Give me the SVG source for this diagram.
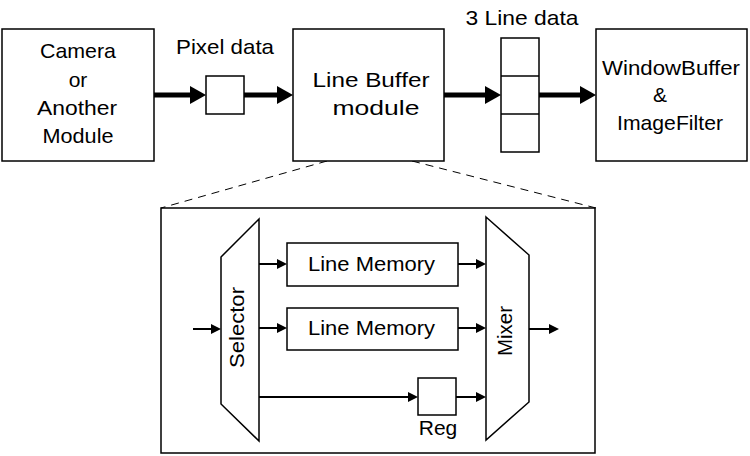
<svg xmlns="http://www.w3.org/2000/svg" width="750" height="456" viewBox="0 0 750 456">
<defs>
<style>
.box{fill:#fff;stroke:#000;stroke-width:1.5}
.frame{fill:none;stroke:#000;stroke-width:1.5}
.t{font-family:"Liberation Sans",Arial,sans-serif;font-size:21px;fill:#000;text-anchor:middle}
.big{stroke:#000;stroke-width:5;fill:none}
.thin{stroke:#000;stroke-width:2;fill:none}
.dash{stroke:#000;stroke-width:1;fill:none;stroke-dasharray:8 6}
</style>
<marker id="ab" markerUnits="userSpaceOnUse" markerWidth="16" markerHeight="18" refX="8" refY="9" orient="auto">
<path d="M0,0 L16,9 L0,18 z" fill="#000"/>
</marker>
<marker id="as" markerUnits="userSpaceOnUse" markerWidth="10" markerHeight="11" refX="5" refY="5.5" orient="auto">
<path d="M0,0.5 L10,5.5 L0,10.5 z" fill="#000"/>
</marker>
</defs>
<rect width="750" height="456" fill="#fff"/>

<g id="detail">
<rect class="frame" x="161" y="208" width="434" height="245"/>
</g>

<g id="connectors">
<line class="big" x1="154" y1="95" x2="198" y2="95" marker-end="url(#ab)"/>
<line class="big" x1="244" y1="95" x2="285" y2="95" marker-end="url(#ab)"/>
<line class="big" x1="444" y1="95" x2="493" y2="95" marker-end="url(#ab)"/>
<line class="big" x1="539" y1="95" x2="588" y2="95" marker-end="url(#ab)"/>
<line class="dash" x1="327" y1="161" x2="161" y2="208"/>
<line class="dash" x1="412" y1="161" x2="596" y2="208"/>
<line class="thin" x1="193" y1="329" x2="216" y2="329" marker-end="url(#as)"/>
<line class="thin" x1="259" y1="264" x2="282" y2="264" marker-end="url(#as)"/>
<line class="thin" x1="259" y1="328" x2="282" y2="328" marker-end="url(#as)"/>
<line class="thin" x1="259" y1="397" x2="413" y2="397" marker-end="url(#as)"/>
<line class="thin" x1="458" y1="264" x2="481" y2="264" marker-end="url(#as)"/>
<line class="thin" x1="458" y1="328" x2="481" y2="328" marker-end="url(#as)"/>
<line class="thin" x1="456" y1="397" x2="481" y2="397" marker-end="url(#as)"/>
<line class="thin" x1="529" y1="329" x2="554" y2="329" marker-end="url(#as)"/>
</g>

<g id="camera">
<rect class="box" x="2" y="29" width="152" height="132"/>
<text class="t" x="78" y="58" textLength="76" lengthAdjust="spacingAndGlyphs">Camera</text>
<text class="t" x="78" y="87">or</text>
<text class="t" x="77" y="115" textLength="80" lengthAdjust="spacingAndGlyphs">Another</text>
<text class="t" x="78" y="143" textLength="71" lengthAdjust="spacingAndGlyphs">Module</text>
</g>

<g id="pixel-data">
<text class="t" x="225" y="54" textLength="98" lengthAdjust="spacingAndGlyphs">Pixel data</text>
<rect class="box" x="206" y="76" width="38" height="38"/>
</g>

<g id="line-buffer">
<rect class="box" x="293" y="29" width="151" height="132"/>
<text class="t" x="371" y="87" textLength="117" lengthAdjust="spacingAndGlyphs">Line Buffer</text>
<text class="t" x="376" y="115" textLength="87" lengthAdjust="spacingAndGlyphs">module</text>
</g>

<g id="three-line-data">
<text class="t" x="522" y="25" textLength="113" lengthAdjust="spacingAndGlyphs">3 Line data</text>
<rect class="box" x="501" y="38" width="38" height="114"/>
<line stroke="#000" stroke-width="1.5" x1="501" y1="76" x2="539" y2="76"/>
<line stroke="#000" stroke-width="1.5" x1="501" y1="114" x2="539" y2="114"/>
</g>

<g id="window-buffer">
<rect class="box" x="596" y="29" width="151" height="132"/>
<text class="t" x="671" y="75" textLength="138" lengthAdjust="spacingAndGlyphs">WindowBuffer</text>
<text class="t" x="660" y="102">&amp;</text>
<text class="t" x="670" y="130" textLength="106" lengthAdjust="spacingAndGlyphs">ImageFilter</text>
</g>

<g id="selector">
<polygon class="box" points="259,219 221,257 221,404 259,441"/>
<text class="t" transform="translate(244,327.5) rotate(-90)" x="0" y="0" textLength="81" lengthAdjust="spacingAndGlyphs">Selector</text>
</g>

<g id="line-memory-1">
<rect class="box" x="287" y="243" width="171" height="43"/>
<text class="t" x="371.5" y="271" textLength="127" lengthAdjust="spacingAndGlyphs">Line Memory</text>
</g>

<g id="line-memory-2">
<rect class="box" x="287" y="308" width="171" height="42"/>
<text class="t" x="371.5" y="335" textLength="127" lengthAdjust="spacingAndGlyphs">Line Memory</text>
</g>

<g id="reg">
<rect class="box" x="418" y="378" width="38" height="37"/>
<text class="t" x="438" y="435">Reg</text>
</g>

<g id="mixer">
<polygon class="box" points="486,217 529,255 529,402 486,440"/>
<text class="t" transform="translate(512,331) rotate(-90)" x="0" y="0" textLength="50" lengthAdjust="spacingAndGlyphs">Mixer</text>
</g>
</svg>
